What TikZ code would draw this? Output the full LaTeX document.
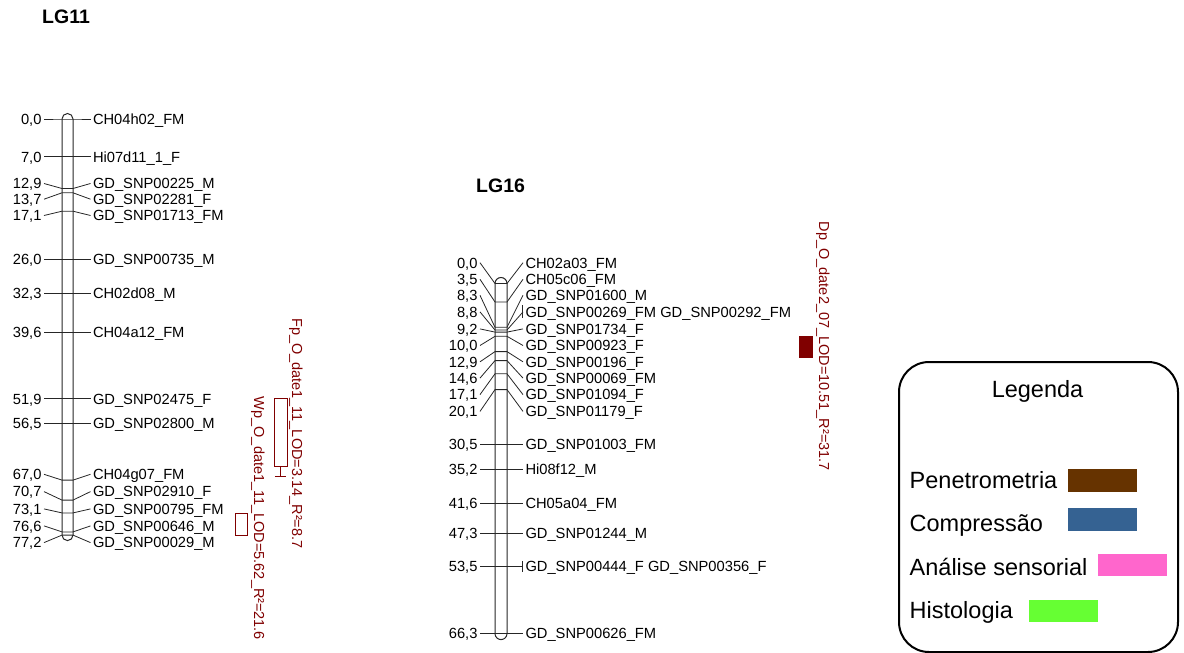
\documentclass[tikz,border=0pt]{standalone}
\usepackage{fontspec}
\setmainfont{Liberation Sans}
\usetikzlibrary{calc}
\definecolor{qtlred}{RGB}{128,0,0}
\definecolor{cpen}{RGB}{102,51,0}
\definecolor{ccomp}{RGB}{53,98,146}
\definecolor{csens}{RGB}{255,102,204}
\definecolor{chist}{RGB}{102,255,51}
\newcommand\mkr[9]{%
  \node[lbl,anchor=base east] (#1n) at (#2,#7+5.3) {#8};
  \node[lbl,anchor=base west] (#1l) at (#5,#7+5.3) {#9};
  \draw[leader] ($(#1n.base east)+(2.5,-5.3)$) -- (#3,#6) -- (#4,#6) -- ($(#1l.base west)+(-2.5,-5.3)$);
}
\begin{document}
\begin{tikzpicture}[x=1pt,y=-1pt,
  lbl/.style={inner sep=0pt,outer sep=0pt,font=\fontsize{14.7}{16}\selectfont},
  leader/.style={line width=0.8pt,black!85},
  chrom/.style={line width=1pt,black!85},
  title/.style={inner sep=0pt,font=\fontsize{19.5}{22}\selectfont\bfseries},
  qtltext/.style={inner sep=0pt,text=qtlred,rotate=-90,anchor=base west,font=\fontsize{14.5}{16}\selectfont},
  qtlbox/.style={draw=qtlred,line width=1pt,inner sep=0pt,outer sep=0pt},
  legtxt/.style={inner sep=0pt,anchor=base west,font=\fontsize{23.5}{26}\selectfont},
  swatch/.style={inner sep=0pt,outer sep=0pt,minimum width=68.5pt,minimum height=22.5pt}]
\useasboundingbox (0,0) rectangle (1184,653);

% ---------- LG11 ----------
\node[title,anchor=west] (t11) at (42,17) {LG11};
\draw[chrom] (62,119) -- (62,535.1) arc (180:0:5.5) -- (73,119) arc (0:-180:5.5) -- cycle;
\mkr{a1}{41.5}{62}{73}{93}{119}{119}{0,0}{CH04h02\_FM}
\mkr{a2}{41.5}{62}{73}{93}{156.7}{156.7}{7,0}{Hi07d11\_1\_F}
\mkr{a3}{41.5}{62}{73}{93}{188.5}{183.5}{12,9}{GD\_SNP00225\_M}
\mkr{a4}{41.5}{62}{73}{93}{192.8}{199.2}{13,7}{GD\_SNP02281\_F}
\mkr{a5}{41.5}{62}{73}{93}{211.2}{215.5}{17,1}{GD\_SNP01713\_FM}
\mkr{a6}{41.5}{62}{73}{93}{259.1}{259.1}{26,0}{GD\_SNP00735\_M}
\mkr{a7}{41.5}{62}{73}{93}{293.1}{293.1}{32,3}{CH02d08\_M}
\mkr{a8}{41.5}{62}{73}{93}{332.4}{332.4}{39,6}{CH04a12\_FM}
\mkr{a9}{41.5}{62}{73}{93}{398.7}{398.7}{51,9}{GD\_SNP02475\_F}
\mkr{a10}{41.5}{62}{73}{93}{423.5}{423.5}{56,5}{GD\_SNP02800\_M}
\mkr{a11}{41.5}{62}{73}{93}{480.1}{474.3}{67,0}{CH04g07\_FM}
\mkr{a12}{41.5}{62}{73}{93}{500.1}{491.6}{70,7}{GD\_SNP02910\_F}
\mkr{a13}{41.5}{62}{73}{93}{512.9}{508.9}{73,1}{GD\_SNP00795\_FM}
\mkr{a14}{41.5}{62}{73}{93}{531.9}{525.9}{76,6}{GD\_SNP00646\_M}
\mkr{a15}{41.5}{62}{73}{93}{535.1}{542.6}{77,2}{GD\_SNP00029\_M}

% QTLs on LG11
\node[qtlbox,minimum width=13.3pt,minimum height=68.4pt] (fpbox) at (280.65,432.5) {};
\draw[qtlred,line width=1pt] (fpbox.south) -- ++(0,10) coordinate (fpw);
\draw[qtlred,line width=1pt] ([xshift=-5.7pt]fpw) -- ([xshift=5.7pt]fpw);
\node[qtltext] (fptxt) at (292,318) {Fp\_O\_date1\_11\_LOD=3.14\_R²=8.7};
\node[qtlbox,minimum width=12.3pt,minimum height=21.7pt] (wpbox) at (241.2,524.2) {};
\node[qtltext] (wptxt) at (254,396.7) {Wp\_O\_date1\_11\_LOD=5.62\_R²=21.6};

% ---------- LG16 ----------
\node[title,anchor=west] (t16) at (476,186) {LG16};
\draw[chrom] (495,283.5) -- (495,633.6) arc (180:0:6) -- (507,283.5) arc (0:-180:6) -- cycle;
\mkr{b1}{477.5}{495}{507}{525.5}{283.5}{262.7}{0,0}{CH02a03\_FM}
\mkr{b2}{477.5}{495}{507}{525.5}{302}{279.3}{3,5}{CH05c06\_FM}
\mkr{b3}{477.5}{495}{507}{525.5}{327.3}{295.3}{8,3}{GD\_SNP01600\_M}
\mkr{b4}{477.5}{495}{507}{525.5}{330}{311.9}{8,8}{GD\_SNP00269\_FM GD\_SNP00292\_FM}
\mkr{b5}{477.5}{495}{507}{525.5}{332.1}{328.9}{9,2}{GD\_SNP01734\_F}
\mkr{b6}{477.5}{495}{507}{525.5}{336.3}{345.5}{10,0}{GD\_SNP00923\_F}
\mkr{b7}{477.5}{495}{507}{525.5}{351.6}{361.8}{12,9}{GD\_SNP00196\_F}
\mkr{b8}{477.5}{495}{507}{525.5}{360.6}{378.1}{14,6}{GD\_SNP00069\_FM}
\mkr{b9}{477.5}{495}{507}{525.5}{373.8}{394.6}{17,1}{GD\_SNP01094\_F}
\mkr{b10}{477.5}{495}{507}{525.5}{389.6}{411.4}{20,1}{GD\_SNP01179\_F}
\mkr{b11}{477.5}{495}{507}{525.5}{444.5}{444.5}{30,5}{GD\_SNP01003\_FM}
\mkr{b12}{477.5}{495}{507}{525.5}{469.4}{469.4}{35,2}{Hi08f12\_M}
\mkr{b13}{477.5}{495}{507}{525.5}{503.1}{503.1}{41,6}{CH05a04\_FM}
\mkr{b14}{477.5}{495}{507}{525.5}{533.2}{533.2}{47,3}{GD\_SNP01244\_M}
\mkr{b15}{477.5}{495}{507}{525.5}{566.2}{566.2}{53,5}{GD\_SNP00444\_F GD\_SNP00356\_F}
\mkr{b16}{477.5}{495}{507}{525.5}{633.6}{633.6}{66,3}{GD\_SNP00626\_FM}
\draw[leader] ($(b4l.base west)+(-3,-11.8)$) -- ++(0,13);
\draw[leader] ($(b15l.base west)+(-3,-10.6)$) -- ++(0,10.6);

% QTL on LG16
\node[qtlbox,fill=qtlred,minimum width=12.7pt,minimum height=21.3pt] (dpbox) at (806.3,346.7) {};
\node[qtltext] (dptxt) at (819,221.7) {Dp\_O\_date2\_07\_LOD=10.51\_R²=31.7};

% ---------- Legend ----------
\draw[line width=2pt,rounded corners=30pt] (899,362) rectangle (1178,652);
\node[inner sep=0pt,font=\fontsize{23.5}{26}\selectfont] (leg) at (1037.5,391.5) {Legenda};
\node[legtxt] (l1) at (909.5,488.3) {Penetrometria};
\node[swatch,fill=cpen] (s1) at (1102.5,480.5) {};
\node[legtxt] (l2) at (909.5,531.6) {Compressão};
\node[swatch,fill=ccomp] (s2) at (1102.5,519.5) {};
\node[legtxt] (l3) at (909.5,575.6) {Análise sensorial};
\node[swatch,fill=csens] (s3) at (1132.5,565) {};
\node[legtxt] (l4) at (909.5,618.3) {Histologia};
\node[swatch,fill=chist] (s4) at (1063.5,611) {};
\end{tikzpicture}
\end{document}
